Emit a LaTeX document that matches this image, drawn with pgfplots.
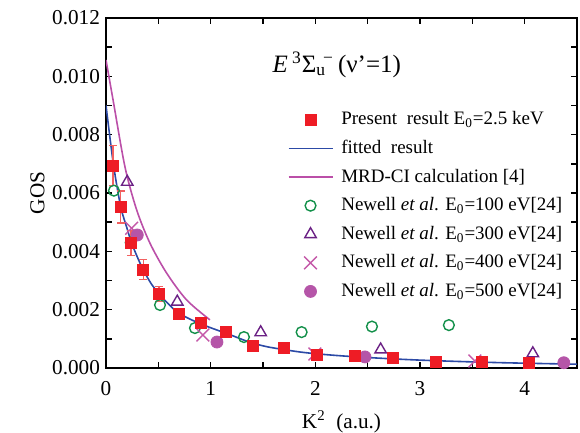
\documentclass[border=0pt]{standalone}
\usepackage{fontspec}
\setmainfont{Liberation Serif}
\usepackage{pgfplots}
\pgfplotsset{compat=1.18}

\definecolor{presred}{HTML}{EE1C25}
\definecolor{errred}{HTML}{F26060}
\definecolor{fitblue}{HTML}{2C4AA6}
\definecolor{mrdmag}{HTML}{BB4FA8}
\definecolor{nwgreen}{HTML}{13904A}
\definecolor{nwpurple}{HTML}{6B2185}
\definecolor{nwpink}{HTML}{C458A8}
\definecolor{nwplum}{HTML}{B555A8}

% present result E0 = 2.5 keV (x, GOS, error)
\pgfplotstableread{
x y e
0.067 0.00694 0.00069
0.140 0.00552 0.00055
0.239 0.00429 0.00042
0.356 0.00338 0.00035
0.506 0.00254 0.00025
0.697 0.00185 0.00018
0.905 0.00154 0.00015
1.143 0.00123 0.00012
1.404 0.00075 0.00008
1.700 0.00069 0.00007
2.012 0.00045 0.00005
2.378 0.00041 0.00004
2.741 0.00034 0.00003
3.152 0.00021 0.00002
3.588 0.00021 0.00002
4.040 0.00017 0.00002
}\present

\pgfplotstableread{
x y
0.00 0.00900
0.07 0.00700
0.14 0.00553
0.20 0.00480
0.245 0.00428
0.30 0.00380
0.356 0.00336
0.43 0.00290
0.50 0.00257
0.60 0.00218
0.69 0.00189
0.80 0.00168
0.90 0.00152
1.00 0.00138
1.10 0.00125
1.20 0.00112
1.30 0.00098
1.40 0.00085
1.55 0.00072
1.70 0.00063
1.85 0.00055
2.00 0.00049
2.20 0.00043
2.40 0.00038
2.70 0.00032
3.00 0.00027
3.40 0.00022
3.80 0.00018
4.20 0.00015
4.50 0.00013
}\fitted

\pgfplotstableread{
x y
0.000 0.01056
0.067 0.00920
0.181 0.00690
0.293 0.00542
0.420 0.00428
0.580 0.00325
0.771 0.00233
0.993 0.00165
}\mrdci

\begin{document}
\begin{tikzpicture}
\begin{axis}[
    scale only axis,
    width=235.5pt, height=175pt,
    xmin=0, xmax=4.5,
    ymin=0, ymax=0.012,
    xtick={0,1,2,3,4},
    ytick={0,0.002,0.004,0.006,0.008,0.010,0.012},
    minor x tick num=1,
    minor y tick num=1,
    tick align=inside,
    xtick pos=both, ytick pos=both,
    xticklabel pos=lower, yticklabel pos=left,
    major tick length=2.8pt,
    minor tick length=2.8pt,
    axis line style={line width=0.9pt},
    every tick/.style={black, line width=0.8pt},
    scaled y ticks=false,
    yticklabel style={/pgf/number format/fixed, /pgf/number format/fixed zerofill,
        /pgf/number format/precision=3},
    /pgf/number format/assume math mode=true,
    ticklabel style={font=\fontsize{10.6}{12}\selectfont},
    xticklabel style={yshift=-3pt},
    yticklabel style={xshift=0.5pt},
    xlabel={K\textsuperscript{2}\ \ (a.u.)},
    ylabel={GOS},
    label style={font=\fontsize{10.6}{12}\selectfont},
    xlabel style={yshift=-1pt},
    ylabel style={yshift=-3pt},
    legend style={draw=none, fill=none,
        at={(axis description cs:0.385,0.745)}, anchor=north west,
        font=\fontsize{9.5}{11}\selectfont,
        row sep=2.2pt, inner sep=0pt,
        nodes={inner xsep=4pt}},
    legend cell align=left,
    legend image code/.code={
        \draw[mark repeat=2, mark phase=2, #1]
            plot coordinates {(0pt,0pt) (11pt,0pt) (22pt,0pt)};},
]

\addlegendimage{only marks, mark=square*, mark size=2.75pt, presred, draw=presred}
\addlegendentry{Present\ \ result E\textsubscript{0}=2.5 keV}
\addlegendimage{fitblue, line width=0.8pt}
\addlegendentry{fitted\ \ result}
\addlegendimage{mrdmag, line width=0.8pt}
\addlegendentry{MRD-CI calculation [4]}
\addlegendimage{only marks, mark=o, mark size=2.7pt, nwgreen, line width=0.7pt}
\addlegendentry{Newell \textit{et al}. E\textsubscript{0}=100 eV[24]}
\addlegendimage{only marks, mark=triangle, mark size=3.3pt, nwpurple, line width=0.7pt}
\addlegendentry{Newell \textit{et al}. E\textsubscript{0}=300 eV[24]}
\addlegendimage{only marks, mark=x, mark size=4.5pt, nwpink, line width=0.7pt}
\addlegendentry{Newell \textit{et al}. E\textsubscript{0}=400 eV[24]}
\addlegendimage{only marks, mark=*, mark size=3pt, nwplum, draw=nwplum}
\addlegendentry{Newell \textit{et al}. E\textsubscript{0}=500 eV[24]}

\addplot[forget plot, fitblue, line width=0.8pt, smooth, tension=0.4] table[x=x, y=y] {\fitted};
\addplot[forget plot, mrdmag, line width=0.8pt, smooth, tension=0.5] table[x=x, y=y] {\mrdci};

% Newell et al., E0 = 100 eV
\addplot[forget plot, only marks, mark=o, mark size=2.7pt, nwgreen, line width=0.7pt] coordinates {
    (0.076,0.00608) (0.236,0.00430) (0.516,0.00216) (0.850,0.00137)
    (1.318,0.00106) (1.869,0.00123) (2.541,0.00142) (3.276,0.00147)
};
% E0 = 300 eV
\addplot[forget plot, only marks, mark=triangle, mark size=3.3pt, nwpurple, line width=0.7pt] coordinates {
    (0.203,0.00638) (0.681,0.00227) (1.478,0.00122) (2.624,0.00063) (4.078,0.00050)
};
% E0 = 400 eV
\addplot[forget plot, only marks, mark=x, mark size=4.5pt, nwpink, line width=0.7pt] coordinates {
    (0.245,0.00479) (0.926,0.00113) (1.996,0.00048) (3.524,0.00024)
};
% E0 = 500 eV
\addplot[forget plot, only marks, mark=*, mark size=3pt, nwplum, draw=nwplum] coordinates {
    (0.299,0.00456) (1.060,0.00089) (2.474,0.00038) (4.374,0.00018)
};

% present result with error bars
\addplot[forget plot, only marks, mark=square*, mark size=2.75pt, presred, draw=presred,
    error bars/.cd, y dir=both, y explicit,
    error bar style={errred, line width=0.6pt},
    error mark options={errred, line width=0.6pt, mark size=2pt, rotate=90}]
    table[x=x, y=y, y error=e] {\present};

\node[font=\fontsize{12.5}{14}\selectfont] at (axis description cs:0.49,0.866)
    {\textit{E}\,\textsuperscript{3}Σ\textsubscript{u}\kern-0.12em\textsuperscript{−}\,(ν'=1)};
\end{axis}
\pgfresetboundingbox
\path[use as bounding box] (-53pt,-32.5pt) rectangle (237pt,184pt);
\end{tikzpicture}
\end{document}
